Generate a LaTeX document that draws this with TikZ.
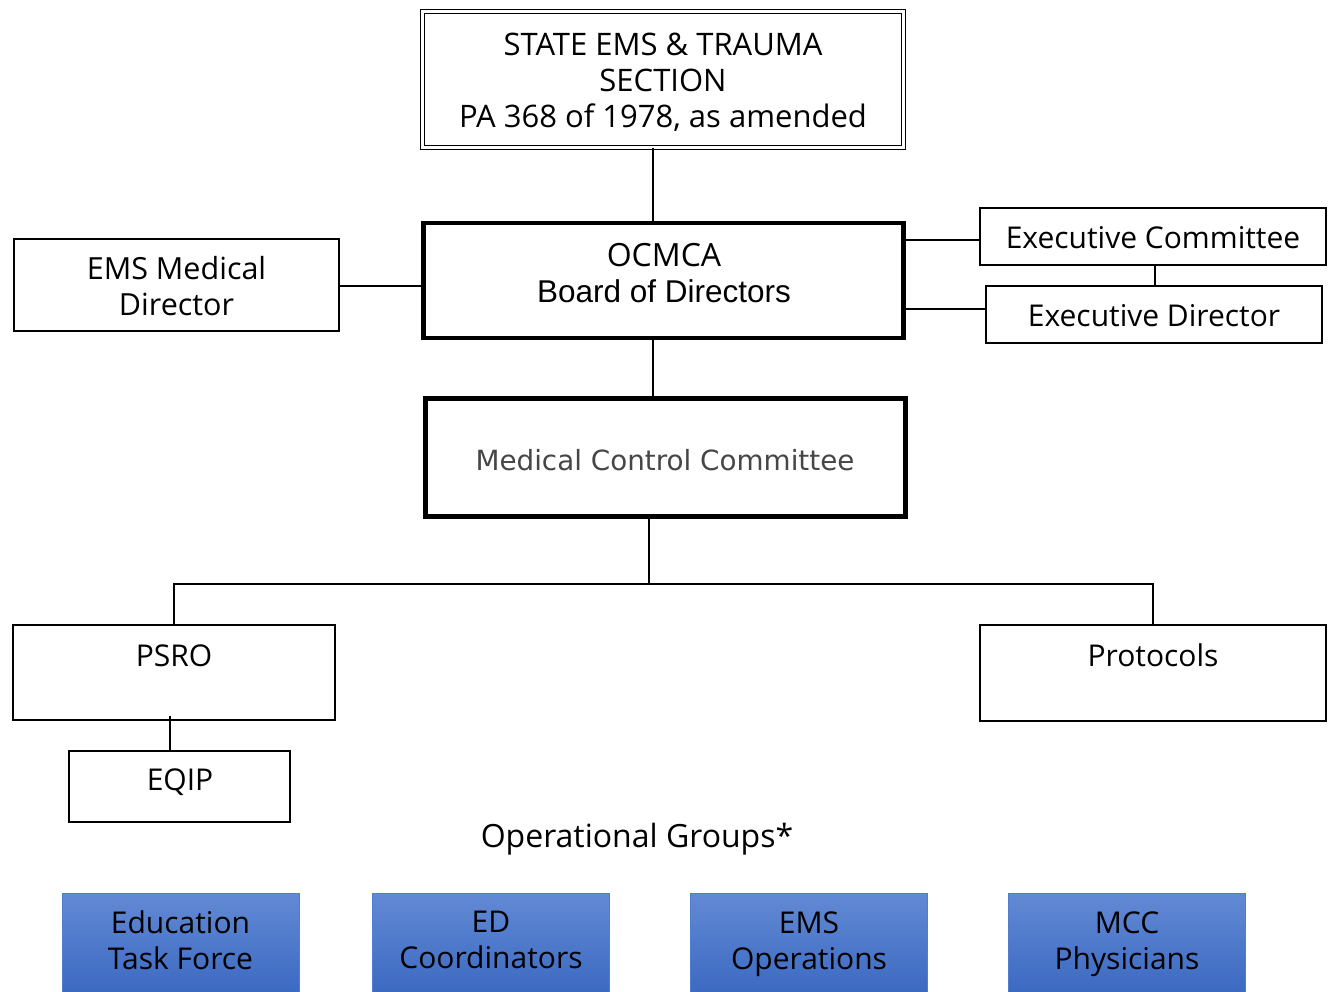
\documentclass[tikz,border=0pt]{standalone}
\usepackage{fontspec}
\setmainfont{Open Sans}
\newfontfamily\arialf{Liberation Sans}
\newfontfamily\verdf{DejaVu Sans}
\definecolor{mccgray}{RGB}{70,70,70}
\definecolor{blueedge}{RGB}{80,125,205}
\definecolor{bluetop}{RGB}{98,137,212}
\definecolor{bluebot}{RGB}{48,96,188}
\newcommand\stt{\vphantom{Ag}}
\begin{document}
\begin{tikzpicture}[x=1pt,y=-1pt,
  thin box/.style={draw=black,line width=1.5pt,rectangle,inner sep=0pt,align=center},
  conn/.style={draw=black,line width=1.5pt},
  txt/.style={align=center,inner sep=0pt,yshift=-3.8pt,font=\fontsize{30}{36}\selectfont},
  bluebox/.style={rectangle,draw=blueedge,line width=0.8pt,top color=bluetop,bottom color=bluebot,minimum width=237pt,minimum height=130pt,inner sep=0pt},
]
\useasboundingbox (0,0) rectangle (1332,991);
\clip (0,0) rectangle (1332,991);
% top box
\node[draw=black,double,double distance=3.2pt,line width=1.3pt,minimum width=481pt,minimum height=136pt,inner sep=0pt] (state) at (663,79.5) {};
\node[txt,font=\fontsize{31}{36}\selectfont] (statet) at (663,80.5) {STATE EMS \& TRAUMA\stt\\SECTION\stt\\PA 368 of 1978, as amended\stt};
% OCMCA
\node[draw=black,line width=4.5pt,minimum width=480pt,minimum height=115pt,inner sep=0pt] (ocmca) at (663.5,280.5) {};
\node[txt] (ocmcat) at (664,272) {\fontsize{32}{37}\selectfont OCMCA\stt\\\arialf\fontsize{31.5}{37}\selectfont Board of Directors\stt};
% EMS medical director
\node[thin box,minimum width=325pt,minimum height=92pt] (emsmd) at (176.5,285) {};
\node[txt,font=\fontsize{30.5}{36}\selectfont] (emsmdt) at (176.5,286) {EMS Medical\stt\\Director\stt};
% exec committee and director
\node[thin box,minimum width=346pt,minimum height=57pt] (exc) at (1153,236.5) {};
\node[txt] (exct) at (1153,237) {Executive Committee\stt};
\node[thin box,minimum width=336pt,minimum height=57pt] (exd) at (1154,314.5) {};
\node[txt] (exdt) at (1154,315) {Executive Director\stt};
% MCC
\node[draw=black,line width=5pt,minimum width=480pt,minimum height=118pt,inner sep=0pt] (mcc) at (665,457.5) {};
\node[txt,text=mccgray,font=\verdf\fontsize{27.8}{35}\selectfont] (mcct) at (665,459) {Medical Control Committee\stt};
% PSRO, protocols, EQIP
\node[thin box,minimum width=322pt,minimum height=95pt] (psro) at (174,672.5) {};
\node[txt] (psrot) at (174,655) {PSRO\stt};
\node[thin box,minimum width=346pt,minimum height=96pt] (prot) at (1153,673) {};
\node[txt] (prott) at (1153,655) {Protocols\stt};
\node[thin box,minimum width=221pt,minimum height=71pt] (eqip) at (179.5,786.5) {};
\node[txt] (eqipt) at (180,779.5) {EQIP\stt};
% operational groups
\node[txt,font=\fontsize{32}{36}\selectfont] (opg) at (637,835) {Operational Groups*\stt};
\node[bluebox,anchor=north] (b1) at (180.5,893) {};
\node[bluebox,anchor=north] (b2) at (491,893) {};
\node[bluebox,anchor=north] (b3) at (809,893) {};
\node[bluebox,anchor=north] (b4) at (1127,893) {};
\node[txt] (b1t) at (180.5,940) {Education\stt\\Task Force\stt};
\node[txt] (b2t) at (491,940) {ED\stt\\Coordinators\stt};
\node[txt] (b3t) at (809,940) {EMS\stt\\Operations\stt};
\node[txt] (b4t) at (1127,940) {MCC\stt\\Physicians\stt};
% connectors
\draw[conn] (state.south -| 653,0) -- (ocmca.north -| 653,0);
\draw[conn] (ocmca.south -| 653,0) -- (mcc.north -| 653,0);
\draw[conn] (emsmd.east |- 0,286) -- (ocmca.west |- 0,286);
\draw[conn] (ocmca.east |- 0,240) -- (exc.west |- 0,240);
\draw[conn] (ocmca.east |- 0,309) -- (exd.west |- 0,309);
\draw[conn] (exc.south -| 1155,0) -- (exd.north -| 1155,0);
\coordinate (split) at (649,584);
\draw[conn] (mcc.south -| split) -- (split);
\draw[conn] (split) -| (psro.north -| 174,0);
\draw[conn] (split) -| (prot.north -| 1153,0);
\draw[conn] (170,716) -- (eqip.north -| 170,0);
\end{tikzpicture}
\end{document}
